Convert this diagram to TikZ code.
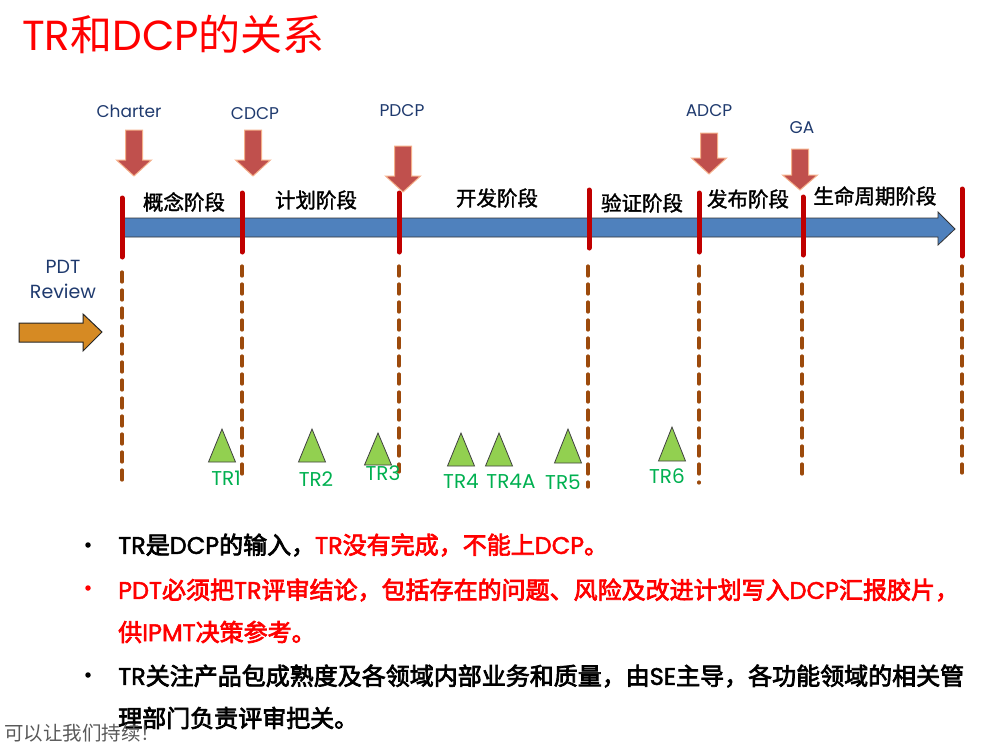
\documentclass[tikz,border=0pt]{standalone}
\usepackage{fontspec}
\newfontfamily\cjk{Noto Sans CJK SC}
\newfontfamily\cjkm{Noto Sans CJK SC}[FakeBold=1.6]
\newfontfamily\cjkb{Noto Sans CJK SC}[FakeBold=3]
\newfontfamily\latf{Poppins}
\newfontfamily\latm{Poppins}[FakeBold=2]
\newcommand\La[1]{{\latf #1}}
\newcommand\Lm[1]{{\latm #1}}
\definecolor{barblue}{HTML}{4F81BD}
\definecolor{dcpred}{HTML}{C00000}
\definecolor{dashbrown}{HTML}{9C4A0C}
\definecolor{arrred}{HTML}{C0504D}
\definecolor{arredge}{HTML}{F5B08A}
\definecolor{navy}{HTML}{1F3A6E}
\definecolor{trgreen}{HTML}{00B050}
\definecolor{trifill}{HTML}{92D050}
\definecolor{pdtorange}{HTML}{D68A23}
\begin{document}
\begin{tikzpicture}[x=1pt,y=-1pt,
  dcpbar/.style={draw=dcpred,line width=5pt,line cap=round},
  dashline/.style={draw=dashbrown,line width=3.2pt,line cap=round,dash pattern=on 10pt off 8pt},
  dcparrow/.style={fill=arrred,draw=arredge,line width=1pt},
  dcplabel/.style={font=\latf\fontsize{17}{19}\selectfont,text=navy,inner sep=0pt},
  phase/.style={font=\cjkm\fontsize{20.5}{23}\selectfont,text=black,inner sep=0pt},
  trtri/.style={fill=trifill,draw=black!75,line width=0.8pt},
  trlabel/.style={font=\latf\fontsize{20}{22}\selectfont,text=trgreen,inner sep=0pt},
  bullettext/.style={font=\cjkb\fontsize{24}{27}\selectfont,inner sep=0pt,anchor=west},
  bulletdot/.style={circle,fill,inner sep=0pt,minimum size=5.5pt}
]
\useasboundingbox (0,0) rectangle (994,742);

% title
\node[anchor=base west,inner sep=0pt,text=red] (title) at (22,50)
  {\fontsize{42}{46}\selectfont\La{TR}\cjk 和\La{DCP}\cjk 的关系};

% main blue arrow bar
\draw[fill=barblue,draw=black!80,line width=0.8pt]
  (123,218) -- (938,218) -- (938,212) -- (955,229) -- (938,245) -- (938,237) -- (123,237) -- cycle;

% DCP bars
\foreach \xx/\ya/\yb in {122/198/257, 242/193/252, 399/193/252, 589/190/248, 699/193/252, 803/197/255, 962/189/256}
  \draw[dcpbar] (\xx,\ya) -- (\xx,\yb);

% dashed lines
\foreach \xx/\ya/\yb in {122/272/481, 242/266/475, 399/266/472, 588/266/487, 699/266/483, 802/266/481, 962/266/473}
  \draw[dashline] (\xx,\ya) -- (\xx,\yb);

% down arrows: centre x, top, head start, tip
\foreach \cc/\tp/\hs/\tip in {134/130/160/176, 253/130/160/176, 403/146/176/192, 709/133/158/174, 800/149/175/190}
  \draw[dcparrow] (\cc-8.5,\tp) -- (\cc+8.5,\tp) -- (\cc+8.5,\hs) -- (\cc+17.5,\hs) -- (\cc,\tip)
     -- (\cc-17.5,\hs) -- (\cc-8.5,\hs) -- cycle;

% DCP labels
\node[dcplabel] (charter) at (129,111) {Charter};
\node[dcplabel] (cdcp) at (255,114) {CDCP};
\node[dcplabel] (pdcp) at (402,111) {PDCP};
\node[dcplabel] (adcp) at (709,111) {ADCP};
\node[dcplabel] (ga) at (802,128) {GA};

% phase labels
\node[phase] (p1) at (184,202) {概念阶段};
\node[phase] (p2) at (316,200) {计划阶段};
\node[phase] (p3) at (497,198) {开发阶段};
\node[phase] (p4) at (642,203) {验证阶段};
\node[phase] (p5) at (748,199) {发布阶段};
\node[phase] (p6) at (875,196) {生命周期阶段};

% PDT review
\node[dcplabel,font=\latf\fontsize{19}{25}\selectfont,align=center] (pdt) at (63,279) {PDT\\Review};
\draw[fill=pdtorange,draw=black!85,line width=1pt]
  (19,323) -- (83,323) -- (83,314) -- (102,332) -- (83,351) -- (83,342) -- (19,342) -- cycle;

% TR triangles: apex x, apex y, base y
\foreach \ax/\ay/\by in {222/429/462, 312/429/462, 378/433/465, 461/433/466, 499/433/466, 568/429/463, 672/427/461}
  \draw[trtri] (\ax,\ay) -- (\ax+13.5,\by) -- (\ax-13.5,\by) -- cycle;

\node[trlabel] (tr1) at (226,478) {TR1};
\node[trlabel] (tr2) at (316,479) {TR2};
\node[trlabel] (tr3) at (383,473) {TR3};
\node[trlabel] (tr4) at (461,481) {TR4};
\node[trlabel] (tr4a) at (511,481) {TR4A};
\node[trlabel] (tr5) at (563,482) {TR5};
\node[trlabel] (tr6) at (667,476) {TR6};

% bullets
\node[bulletdot] (b1) at (88,545) {};
\node[bulletdot,red] (b2) at (88,588) {};
\node[bulletdot] (b3) at (88,675) {};
\node[bullettext] (l1) at (118,545) {\Lm{TR}是\Lm{DCP}的输入，\textcolor{red}{\Lm{TR}没有完成，不能上\Lm{DCP}。}};
\node[bullettext,text=red] (l2) at (118,590) {\Lm{PDT}必须把\Lm{TR}评审结论，包括存在的问题、风险及改进计划写入\Lm{DCP}汇报胶片，};
\node[bullettext,text=red] (l3) at (118,632) {供\Lm{IPMT}决策参考。};
\node[bullettext] (l4) at (118,676) {\Lm{TR}关注产品包成熟度及各领域内部业务和质量，由\Lm{SE}主导，各功能领域的相关管};
\node[bullettext] (l5) at (118,718) {理部门负责评审把关。};

% footer
\node[anchor=base west,inner sep=0pt,text=black!65,font=\cjk\fontsize{19.5}{21}\selectfont] (foot) at (4,740) {可以让我们持续！};
\end{tikzpicture}
\end{document}
